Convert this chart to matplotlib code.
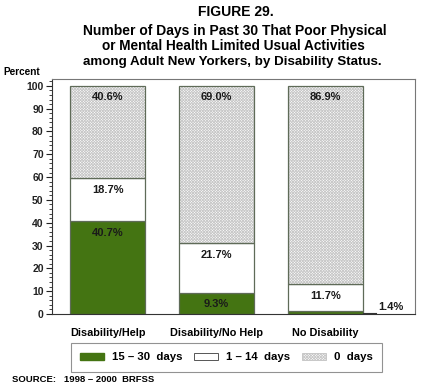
import matplotlib
matplotlib.use("Agg")
import matplotlib.pyplot as plt
from matplotlib.patches import Patch
from matplotlib.ticker import MultipleLocator

plt.rcParams['font.family'] = ['Liberation Sans', 'DejaVu Sans']
plt.rcParams['font.weight'] = 'bold'
plt.rcParams['hatch.linewidth'] = 0.6

categories = ["Disability/Help", "Disability/No Help", "No Disability"]
days_15_30 = [40.7, 9.3, 1.4]
days_1_14 = [18.7, 21.7, 11.7]
days_0 = [40.6, 69.0, 86.9]
series_names = ["15 \u2013 30  days", "1 \u2013 14  days", "0  days"]

green = "#447412"
edge = "#5f6b58"
hatch_grey = "#c8c8c8"

fig = plt.figure(figsize=(4.22, 3.88), dpi=100)
ax = fig.add_axes([52/422, 1 - 314/388, (415-52)/422, (314-79)/388])

x = list(range(len(categories)))
w = 0.69
bottom2 = days_15_30
bottom3 = [a + b for a, b in zip(days_15_30, days_1_14)]

ax.bar(x, days_15_30, w, color=green, edgecolor=edge, linewidth=0.9, zorder=2)
ax.bar(x, days_1_14, w, bottom=bottom2, color="white", edgecolor=edge, linewidth=0.9, zorder=2)
# hatch layer, then outline on top
ax.bar(x, days_0, w, bottom=bottom3, color="white", edgecolor=hatch_grey, hatch="xxxxxxxxxxxx",
       linewidth=0, zorder=2)
ax.bar(x, days_0, w, bottom=bottom3, fill=False, edgecolor=edge, linewidth=0.9, zorder=3)

# value labels
for i in x:
    tops = [days_15_30[i], bottom3[i], 100]
    vals = [days_15_30[i], days_1_14[i], days_0[i]]
    for t, v in zip(tops, vals):
        if v < 3:
            continue
        ax.text(i, t - 5, f"{v:.1f}%", ha="center", va="center", fontsize=8, color="#1a1a1a")

# small segment label
i = 2
ax.plot([i + w/2, i + w/2 + 0.12], [0.6, 0.6], color="#333333", lw=0.8, clip_on=False)
ax.text(i + w/2 + 0.14, 0.9, f"{days_15_30[i]:.1f}%", ha="left", va="bottom", fontsize=8,
        color="#1a1a1a")

ax.set_xlim(-0.51, 2.82)
ax.set_ylim(0, 103)
ax.yaxis.set_major_locator(MultipleLocator(10))
ax.yaxis.set_minor_locator(MultipleLocator(2))
ax.set_yticks(range(0, 101, 10))
ax.tick_params(axis="y", which="major", length=4, width=0.8, labelsize=7.5, pad=2, colors="#222222")
ax.tick_params(axis="y", which="minor", length=2, width=0.6, colors="#222222")
ax.set_xticks(x)
ax.set_xticklabels(categories, fontsize=7.8)
ax.tick_params(axis="x", length=0, pad=10)
for s in ax.spines.values():
    s.set_color("#777777")
    s.set_linewidth(0.8)
ax.spines["left"].set_color("#333333")
ax.spines["bottom"].set_color("#333333")

fig.text(236/422, 1 - 12/388, "FIGURE 29.", ha="center", va="center", fontsize=10)
fig.text(235/422, 1 - 31.5/388, "Number of Days in Past 30 That Poor Physical", ha="center", va="center", fontsize=10)
fig.text(233/422, 1 - 46.5/388, "or Mental Health Limited Usual Activities", ha="center", va="center", fontsize=9.8)
fig.text(232/422, 1 - 61.5/388, "among Adult New Yorkers, by Disability Status.", ha="center", va="center", fontsize=9.6)
fig.text(3/422, 1 - 72/388, "Percent", ha="left", va="center", fontsize=7.2)
fig.text(12/422, 1 - 380/388, "SOURCE:   1998 \u2013 2000  BRFSS", ha="left", va="center", fontsize=6.8)

handles = [
    Patch(facecolor=green, edgecolor=green),
    Patch(facecolor="white", edgecolor="#555555", linewidth=0.7),
    Patch(facecolor="white", edgecolor=hatch_grey, hatch="xxxxxxxxxxxx", linewidth=0.7),
]
leg = fig.legend(handles, series_names, ncol=3, loc="center",
                 bbox_to_anchor=(226.5/422, 1 - 357.5/388), fontsize=8.2, frameon=True,
                 fancybox=False, edgecolor="#777777", handlelength=2.1, handleheight=0.5,
                 columnspacing=1.0, handletextpad=0.75, borderpad=0.8, borderaxespad=0)
leg.get_frame().set_linewidth(0.8)

fig.savefig("out.png", dpi=100)
